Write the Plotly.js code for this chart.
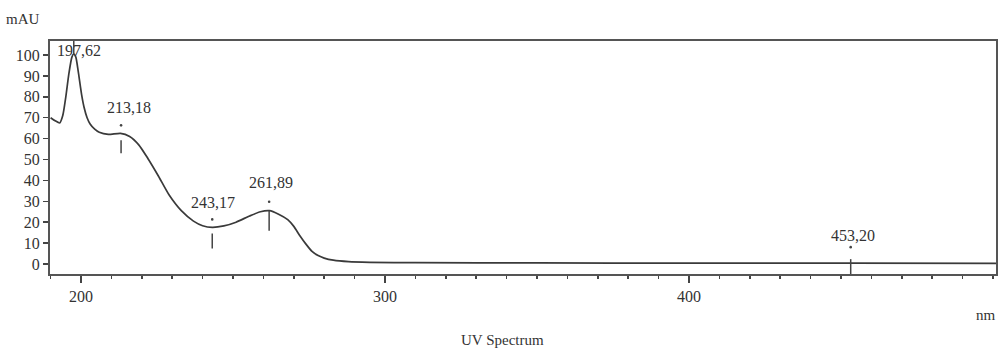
<!DOCTYPE html>
<html>
<head>
<meta charset="utf-8">
<script src="https://cdn.plot.ly/plotly-3.0.1.min.js"></script>
<style>html,body{margin:0;padding:0;background:#fff;}#chart{width:1000px;height:351px;}</style>
</head>
<body>
<div id="chart"></div>
<script>
// UV spectrum (wavelength in nm, absorbance in mAU)
const wavelength = [190, 191.5, 193, 194, 195, 196, 197, 197.6, 198.3, 199.1, 200.2, 201, 202, 203, 204.5, 206, 209, 213, 216, 219, 222, 225.5, 229, 233, 237, 240, 243.2, 247, 251, 255.5, 259, 262, 265, 268, 270, 272, 274, 276, 278, 280, 283, 288, 295, 310, 350, 400, 453.2, 501];
const absorbance = [70, 68.5, 67.5, 71, 80, 91, 99, 100.5, 99, 92, 81, 75, 70, 67, 64.5, 63, 62, 62.5, 61, 57, 50.5, 42, 33, 25.5, 20.5, 18.3, 17.5, 18.2, 20, 23, 25, 25.5, 23.8, 21.2, 18, 13.5, 9.5, 6, 4, 2.8, 1.8, 1.1, 0.8, 0.6, 0.5, 0.4, 0.4, 0.3];

// Peak / valley labels
const peakNm = [197.62, 213.18, 243.17, 261.89, 453.20];
const peakAbs = [100.5, 62.5, 17.5, 25.5, 0.4];
const peakLabels = ["197,62", "213,18", "243,17", "261,89", "453,20"];

const yTickVals = [0, 10, 20, 30, 40, 50, 60, 70, 80, 90, 100];
const xTickVals = [200, 300, 400];

// pixel styling for the marks (label offset, dot offset, tick line from/to)
const labelDx = [5, 8, 1, 2, 2];
const labelDy = [3, 26, 25, 28, 28];
const dotDy = [null, 8, 8, 9, 16];
const lineFrom = [0, -7, -6, 0, 4];
const lineTo = [14, -20, -21, -20, -11];

const FONT = "Liberation Serif, Times New Roman, serif";
const ink = "#333";

const trace = {
  x: wavelength, y: absorbance, type: "scatter", mode: "lines",
  line: {color: "#3a3a3a", width: 1.7, shape: "spline", smoothing: 0.6},
  hoverinfo: "skip"
};

const annotations = [];
const shapes = [];
peakNm.forEach((nm, i) => {
  annotations.push({x: nm, y: peakAbs[i], xref: "x", yref: "y", text: peakLabels[i], showarrow: false,
    xshift: labelDx[i], yshift: labelDy[i], font: {family: FONT, size: 16, color: ink}});
  shapes.push({type: "line", xref: "x", yref: "y", ysizemode: "pixel", yanchor: peakAbs[i],
    x0: nm, x1: nm, y0: lineFrom[i], y1: lineTo[i], line: {color: "#444", width: 1.5}});
  if (dotDy[i] !== null) {
    shapes.push({type: "circle", xref: "x", yref: "y", xsizemode: "pixel", ysizemode: "pixel",
      xanchor: nm, yanchor: peakAbs[i], x0: -1.3, x1: 1.3, y0: dotDy[i] - 1.3, y1: dotDy[i] + 1.3,
      fillcolor: "#444", line: {width: 0}});
  }
});

annotations.push({xref: "paper", yref: "paper", x: 0, y: 1, xshift: -46, yshift: 22, xanchor: "left", yanchor: "middle",
  text: "mAU", showarrow: false, font: {family: FONT, size: 15, color: ink}});
annotations.push({xref: "paper", yref: "paper", x: 1, y: 0, xshift: 2, yshift: -41, xanchor: "right", yanchor: "middle",
  text: "nm", showarrow: false, font: {family: FONT, size: 15, color: ink}});
annotations.push({xref: "paper", yref: "paper", x: 0.478, y: 0, yshift: -66, xanchor: "center", yanchor: "middle",
  text: "UV Spectrum", showarrow: false, font: {family: FONT, size: 15, color: ink}});

const layout = {
  width: 1000, height: 351,
  margin: {l: 50, r: 4, t: 41, b: 77},
  paper_bgcolor: "#fff", plot_bgcolor: "#fff",
  showlegend: false,
  font: {family: FONT, size: 16, color: ink},
  xaxis: {
    range: [189.8, 501], tickvals: xTickVals, ticktext: xTickVals.map(String),
    ticks: "outside", ticklen: 7, tickwidth: 1.5, tickcolor: "#444",
    minor: {dtick: 10, tick0: 0, ticks: "outside", ticklen: 3, tickwidth: 1.5, tickcolor: "#444", showgrid: false},
    showgrid: false, zeroline: false, showline: true, linecolor: "#555", linewidth: 2, mirror: true,
    tickfont: {family: FONT, size: 16, color: ink}
  },
  yaxis: {
    range: [-4.8, 106.7], tickvals: yTickVals, ticktext: yTickVals.map(String),
    ticks: "outside", ticklen: 5, tickwidth: 1.5, tickcolor: "#444",
    showgrid: false, zeroline: false, showline: true, linecolor: "#555", linewidth: 2, mirror: true,
    tickfont: {family: FONT, size: 16, color: ink}
  },
  annotations: annotations,
  shapes: shapes
};

Plotly.newPlot("chart", [trace], layout, {staticPlot: true, displayModeBar: false});
</script>
</body>
</html>
